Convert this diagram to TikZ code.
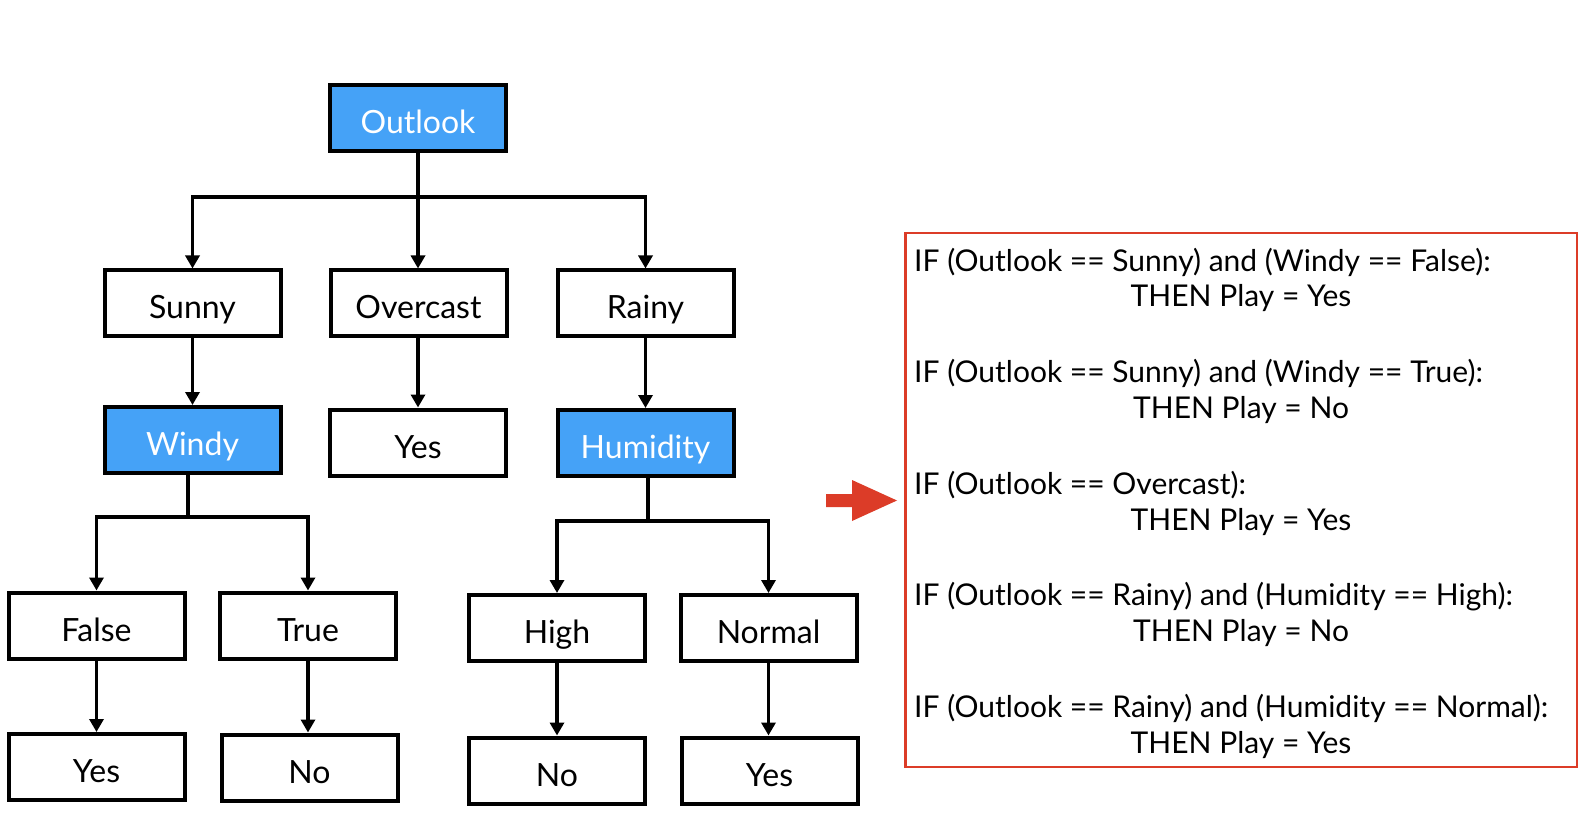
\documentclass[tikz,border=0pt]{standalone}
\usepackage{fontspec}
\setmainfont{Lato}
\usetikzlibrary{arrows.meta}
\definecolor{nodeblue}{RGB}{69,162,247}
\definecolor{rulered}{RGB}{220,60,40}
\tikzset{
  treebox/.style={draw=black, line width=4pt, minimum width=176pt, minimum height=66pt, inner sep=0pt, text height=31pt, text depth=0pt, font=\fontsize{32}{38}\selectfont},
  attrbox/.style={treebox, fill=nodeblue, text=white},
  link/.style={line width=3.5pt},
  arrowlink/.style={link, -{Triangle[width=14pt,length=13pt]}},
  ruletext/.style={inner sep=0pt, font=\fontsize{30}{36}\selectfont},
}
\begin{document}
\begin{tikzpicture}[x=1pt,y=-1pt]
\useasboundingbox (0,0) rectangle (1580,818);
% tree nodes
\node[attrbox] (outlook) at (418,118) {Outlook};
\node[treebox] (sunny) at (192.5,303.5) {Sunny};
\node[treebox] (overcast) at (418.5,303.5) {Overcast};
\node[treebox] (rainy) at (645.5,303.5) {Rainy};
\node[attrbox] (windy) at (192.5,440) {Windy};
\node[treebox] (yes0) at (418,442.5) {Yes};
\node[attrbox] (humidity) at (645.5,443) {Humidity};
\node[treebox] (false) at (96.5,625.5) {False};
\node[treebox] (true) at (308,625.5) {True};
\node[treebox] (yes1) at (96.5,767) {Yes};
\node[treebox] (no1) at (309.5,767.5) {No};
\node[treebox] (high) at (557,628) {High};
\node[treebox] (normal) at (768.5,628) {Normal};
\node[treebox] (no2) at (557,770.5) {No};
\node[treebox] (yes2) at (769.5,770.5) {Yes};
% junction points
\coordinate (bar1) at (418,197);
\coordinate (bar2) at (188,517);
\coordinate (bar3) at (648,521);
% connectors
\draw[link] (outlook.south) -- (bar1);
\draw[arrowlink] (bar1) -| (sunny.north);
\draw[arrowlink] (bar1) -- (overcast.north -| bar1);
\draw[arrowlink] (bar1) -| (rainy.north);
\draw[arrowlink] (sunny) -- (windy);
\draw[arrowlink] (overcast.south -| bar1) -- (yes0.north -| bar1);
\draw[arrowlink] (rainy) -- (humidity);
\draw[link] (windy.south -| bar2) -- (bar2);
\draw[arrowlink] (bar2) -| (false.north);
\draw[arrowlink] (bar2) -| (true.north);
\draw[arrowlink] (false) -- (yes1);
\draw[arrowlink] (true.south) -- (true.south |- no1.north);
\draw[link] (humidity.south -| bar3) -- ([yshift=2pt]bar3);
\draw[arrowlink] (bar3) -| (high.north);
\draw[arrowlink] (bar3) -| (normal.north);
\draw[arrowlink] (high) -- (no2);
\draw[arrowlink] (normal.south) -- (normal.south |- yes2.north);
% rules box
\node[draw=rulered, line width=2.5pt, minimum width=671.5pt, minimum height=533.5pt, inner sep=0pt] (rules) at (1241,500) {};
\fill[rulered] (826,494) -- (852,494) -- (852,480) -- (897,500.5) -- (852,521) -- (852,507) -- (826,507) -- cycle;
\node[ruletext, anchor=west] (r1) at (914,262) {IF (Outlook == Sunny) and (Windy == False):};
\node[ruletext] (t1) at (1241,298) {THEN Play = Yes};
\node[ruletext, anchor=west] (r2) at (914,373) {IF (Outlook == Sunny) and (Windy == True):};
\node[ruletext] (t2) at (1241,410) {THEN Play = No};
\node[ruletext, anchor=west] (r3) at (914,485) {IF (Outlook == Overcast):};
\node[ruletext] (t3) at (1241,522) {THEN Play = Yes};
\node[ruletext, anchor=west] (r4) at (914,597) {IF (Outlook == Rainy) and (Humidity == High):};
\node[ruletext] (t4) at (1241,633) {THEN Play = No};
\node[ruletext, anchor=west] (r5) at (914,708) {IF (Outlook == Rainy) and (Humidity == Normal):};
\node[ruletext] (t5) at (1241,745) {THEN Play = Yes};
\end{tikzpicture}
\end{document}
